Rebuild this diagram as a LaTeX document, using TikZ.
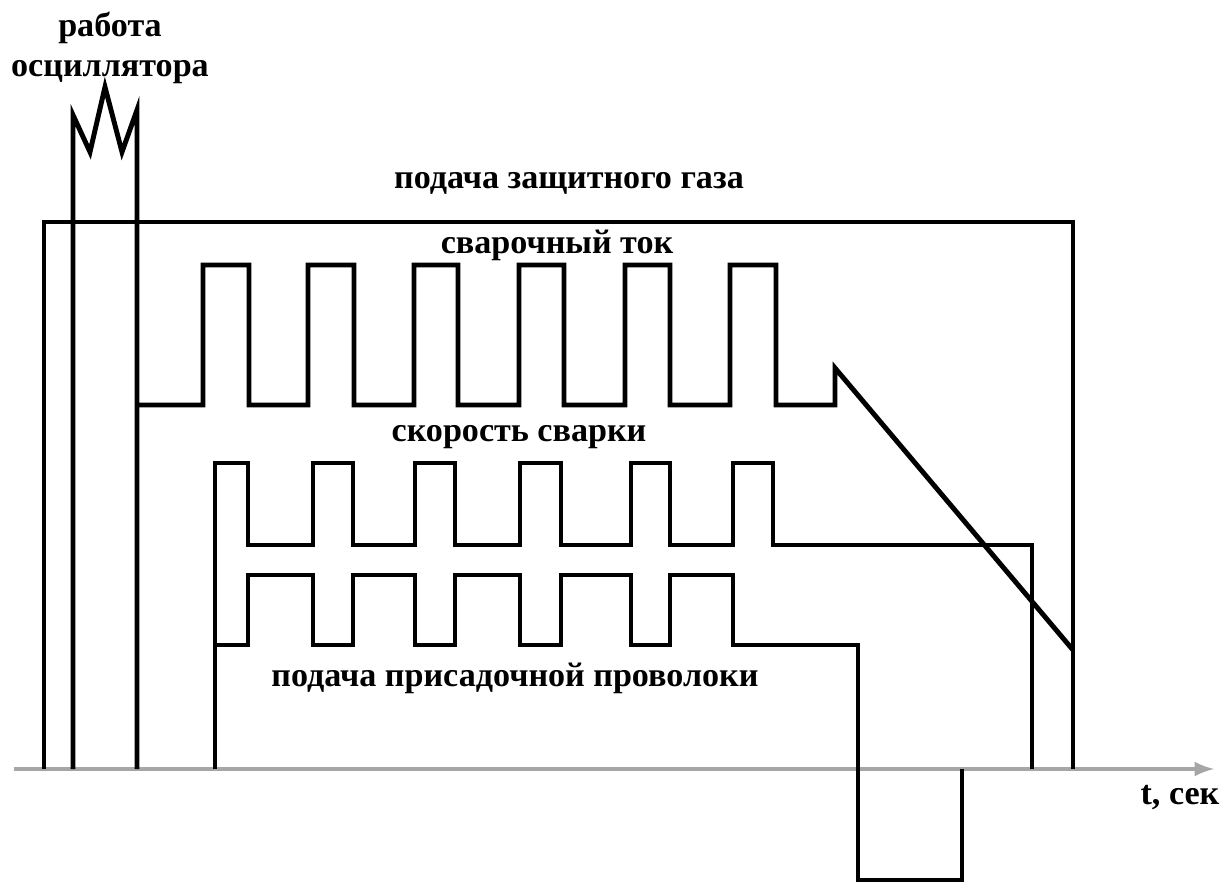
\documentclass[tikz,border=0pt]{standalone}
\usepackage{fontspec}
\setmainfont{Liberation Serif}
\begin{document}
\begin{tikzpicture}[>=latex, x=0.01cm, y=-0.01cm, line join=miter,
    wave/.style={line width=1.4pt},
    lbl/.style={font=\bfseries\fontsize{9.7}{11.4}\selectfont, inner sep=0pt}]
    \useasboundingbox (0,0) rectangle (1223,884);

    % Ось времени
    \draw[->, gray!70, line width=0.9pt] (14,769) -- (1214,769);
    \node[lbl] (tlab) at (1180,798) {t, сек};

    % Подача защитного газа
    \draw[wave] (44,769) -- (44,222) -- (1073,222) -- (1073,769);
    \node[lbl] (gas) at (569,183) {подача защитного газа};

    % Работа осциллятора
    \draw[wave] (73,769) -- (73,115) -- (90,152) -- (105,87) -- (122,152)
        -- (137,110) -- (137,769);
    \node[lbl, align=center] (osc) at (110,48) {работа\\осциллятора};

    % Сварочный ток
    \draw[wave] (137,405) -- (203,405) -- (203,265) -- (249,265) -- (249,405)
        -- (308,405) -- (308,265) -- (354,265) -- (354,405)
        -- (414,405) -- (414,265) -- (458,265) -- (458,405)
        -- (519,405) -- (519,265) -- (564,265) -- (564,405)
        -- (625,405) -- (625,265) -- (670,265) -- (670,405)
        -- (730,405) -- (730,265) -- (776,265) -- (776,405)
        -- (835,405) -- (835,368) -- (1073,650);
    \node[lbl] (cur) at (557,245) {сварочный ток};

    % Скорость сварки
    \draw[wave] (215,769) -- (215,463) -- (248,463) -- (248,545)
        -- (313,545) -- (313,463) -- (353,463) -- (353,545)
        -- (415,545) -- (415,463) -- (455,463) -- (455,545)
        -- (520,545) -- (520,463) -- (561,463) -- (561,545)
        -- (631,545) -- (631,463) -- (670,463) -- (670,545)
        -- (733,545) -- (733,463) -- (773,463) -- (773,545)
        -- (1032,545) -- (1032,769);
    \node[lbl] (speed) at (519,437) {скорость сварки};

    % Подача присадочной проволоки
    \draw[wave] (215,645) -- (248,645) -- (248,575) -- (313,575) -- (313,645)
        -- (353,645) -- (353,575) -- (415,575) -- (415,645)
        -- (455,645) -- (455,575) -- (520,575) -- (520,645)
        -- (561,645) -- (561,575) -- (631,575) -- (631,645)
        -- (670,645) -- (670,575) -- (733,575) -- (733,645)
        -- (858,645) -- (858,880) -- (962,880) -- (962,769);
    \node[lbl] (wire) at (515,678) {подача присадочной проволоки};
\end{tikzpicture}
\end{document}
